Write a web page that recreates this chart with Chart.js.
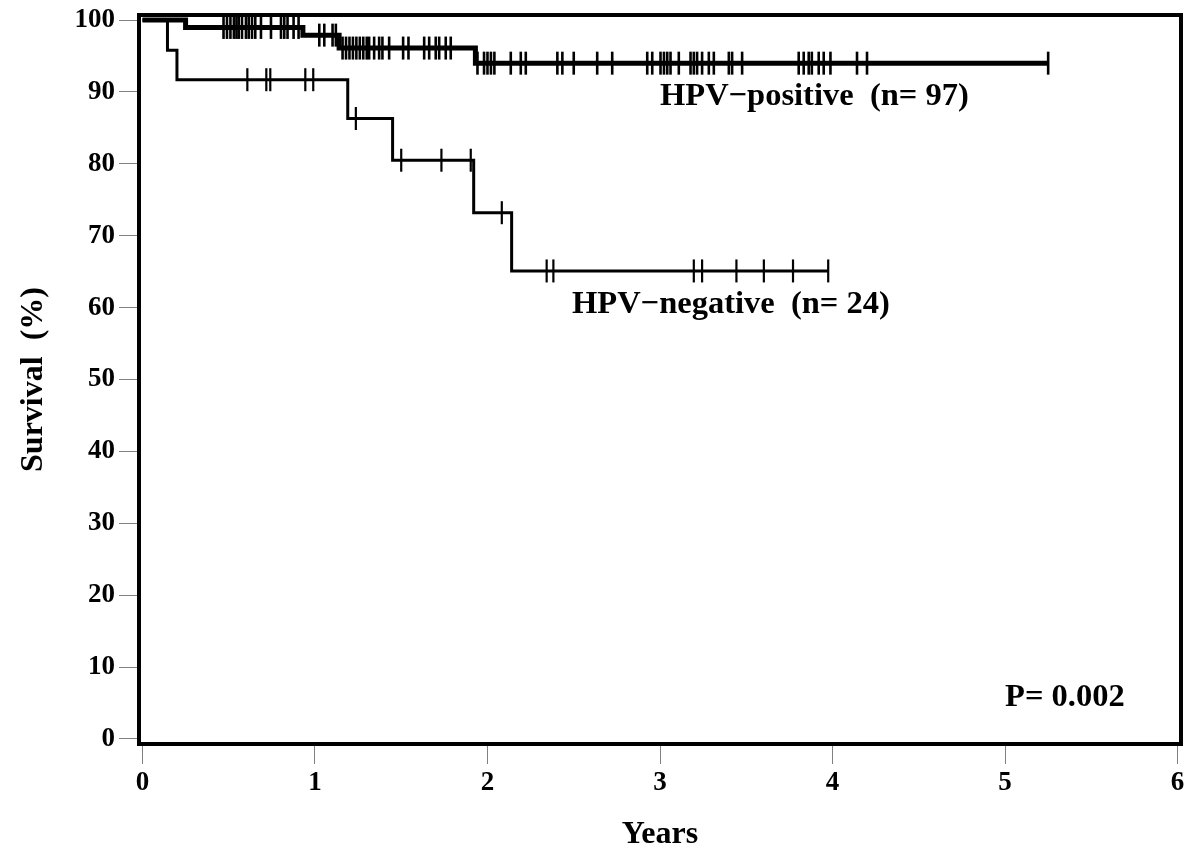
<!DOCTYPE html>
<html><head><meta charset="utf-8">
<script src="https://cdn.jsdelivr.net/npm/chart.js@4"></script>
<style>html,body{margin:0;padding:0;background:#fff}</style>
</head><body>
<canvas id="c" width="1200" height="857" style="display:block;width:1200px;height:857px"></canvas>
<script>
// ---- Data ----
const xTickValues = [0, 1, 2, 3, 4, 5, 6];
const yTickValues = [0, 10, 20, 30, 40, 50, 60, 70, 80, 90, 100];

// HPV-positive (n=97): event times (years) and survival (%) after each step
const posTimes    = [0, 0.25, 0.93, 1.14, 1.93, 5.25];
const posSurvival = [100, 98.97, 97.9, 96.1, 94.0, 94.0];
const posCensored = [0.47, 0.49, 0.51, 0.53, 0.545, 0.558, 0.577, 0.600, 0.616, 0.635, 0.654, 0.687, 0.745, 0.803, 0.822, 0.841, 0.876, 0.905,
  1.025, 1.054, 1.102, 1.121,
  1.16, 1.18, 1.20, 1.22, 1.24, 1.26, 1.28, 1.30, 1.314, 1.343, 1.372, 1.391, 1.43, 1.511, 1.542, 1.633, 1.662, 1.70, 1.72, 1.758, 1.787,
  1.942, 1.98, 2.00, 2.02, 2.04, 2.135, 2.193, 2.222, 2.405, 2.434, 2.50, 2.636, 2.723, 2.926, 2.955, 3.003, 3.023, 3.042, 3.061, 3.109,
  3.177, 3.196, 3.215, 3.244, 3.283, 3.312, 3.399, 3.418, 3.476, 3.804, 3.833, 3.862, 3.88, 3.92, 3.949, 3.988, 4.142, 4.20, 5.25];

// HPV-negative (n=24)
const negTimes    = [0, 0.145, 0.20, 1.19, 1.45, 1.92, 2.14, 3.975];
const negSurvival = [100, 95.8, 91.7, 86.3, 80.5, 73.2, 65.1, 65.1];
const negCensored = [0.608, 0.718, 0.741, 0.944, 0.99, 1.237, 1.50, 1.733, 1.903, 2.083, 2.343, 2.382, 3.196, 3.244, 3.443, 3.602, 3.771, 3.975];

const annotationTexts = ["HPV\u2212positive  (n= 97)", "HPV\u2212negative  (n= 24)", "P= 0.002"];

// ---- helpers ----
function stepPoints(t, s) { return t.map((x, i) => ({ x: x, y: s[i] })); }
function survAt(t, s, x) { let v = s[0]; for (let i = 0; i < t.length; i++) { if (t[i] <= x) v = s[i]; } return v; }
function censorPoints(c, t, s) { return c.map(x => ({ x: x, y: survAt(t, s, x) })); }

const serif = 'Liberation Serif';
const annotationPos = [{x: 3.0, y: 88.2}, {x: 2.49, y: 59.2}, {x: 5.0, y: 4.6}];

const framePlugin = {
  id: 'frame',
  afterDatasetsDraw(chart) {
    const {ctx, chartArea: a, scales} = chart;
    ctx.save();
    ctx.strokeStyle = '#000';
    ctx.lineWidth = 4;
    ctx.strokeRect(a.left, a.top, a.right - a.left, a.bottom - a.top);
    ctx.fillStyle = '#000';
    ctx.font = 'bold 32.5px "' + serif + '"';
    ctx.textBaseline = 'alphabetic';
    ctx.textAlign = 'left';
    annotationTexts.forEach((txt, i) => {
      ctx.fillText(txt, scales.x.getPixelForValue(annotationPos[i].x), scales.y.getPixelForValue(annotationPos[i].y));
    });
    ctx.restore();
  }
};

function zeroPad(s) { s.paddingTop = 0; s.paddingBottom = 0; s.paddingLeft = 0; s.paddingRight = 0; }

new Chart(document.getElementById('c'), {
  type: 'line',
  data: {
    datasets: [
      { data: censorPoints(posCensored, posTimes, posSurvival), showLine: false, pointStyle: 'line', rotation: 90,
        pointRadius: 11.5, pointBorderWidth: 2.6, pointBorderColor: '#000', pointBackgroundColor: '#000' },
      { data: censorPoints(negCensored, negTimes, negSurvival), showLine: false, pointStyle: 'line', rotation: 90,
        pointRadius: 11.5, pointBorderWidth: 2.2, pointBorderColor: '#000', pointBackgroundColor: '#000' },
      { data: stepPoints(posTimes, posSurvival), stepped: true, borderColor: '#000', borderWidth: 5, pointRadius: 0, fill: false },
      { data: stepPoints(negTimes, negSurvival), stepped: true, borderColor: '#000', borderWidth: 3, pointRadius: 0, fill: false }
    ]
  },
  options: {
    responsive: false,
    animation: false,
    devicePixelRatio: 1,
    layout: { padding: { top: 15, right: 19, left: 0, bottom: 0 } },
    plugins: { legend: { display: false }, tooltip: { enabled: false } },
    scales: {
      x: {
        type: 'linear', min: -0.02, max: 6.02,
        afterBuildTicks: s => { s.ticks = xTickValues.map(v => ({ value: v })); },
        afterFit: s => { s.height = 113; zeroPad(s); },
        grid: { drawOnChartArea: false, drawTicks: true, tickLength: 20, color: '#808080', lineWidth: 1 },
        border: { display: false },
        ticks: { color: '#000', font: { family: serif, weight: 'bold', size: 27 }, padding: 3, maxRotation: 0 },
        title: { display: true, text: 'Years', color: '#000', font: { family: serif, weight: 'bold', size: 32 }, padding: { top: 0, bottom: 3 } }
      },
      y: {
        type: 'linear', min: -0.7, max: 100.7,
        afterBuildTicks: s => { s.ticks = yTickValues.map(v => ({ value: v })); },
        afterFit: s => { s.width = 139; zeroPad(s); },
        grid: { drawOnChartArea: false, drawTicks: true, tickLength: 20, color: '#808080', lineWidth: 1 },
        border: { display: false },
        ticks: { color: '#000', font: { family: serif, weight: 'bold', size: 27 }, padding: 4 },
        title: { display: true, text: 'Survival  (%)', color: '#000', font: { family: serif, weight: 'bold', size: 32 }, padding: { top: 15, bottom: 0 } }
      }
    }
  },
  plugins: [framePlugin]
});
</script>
</body></html>
